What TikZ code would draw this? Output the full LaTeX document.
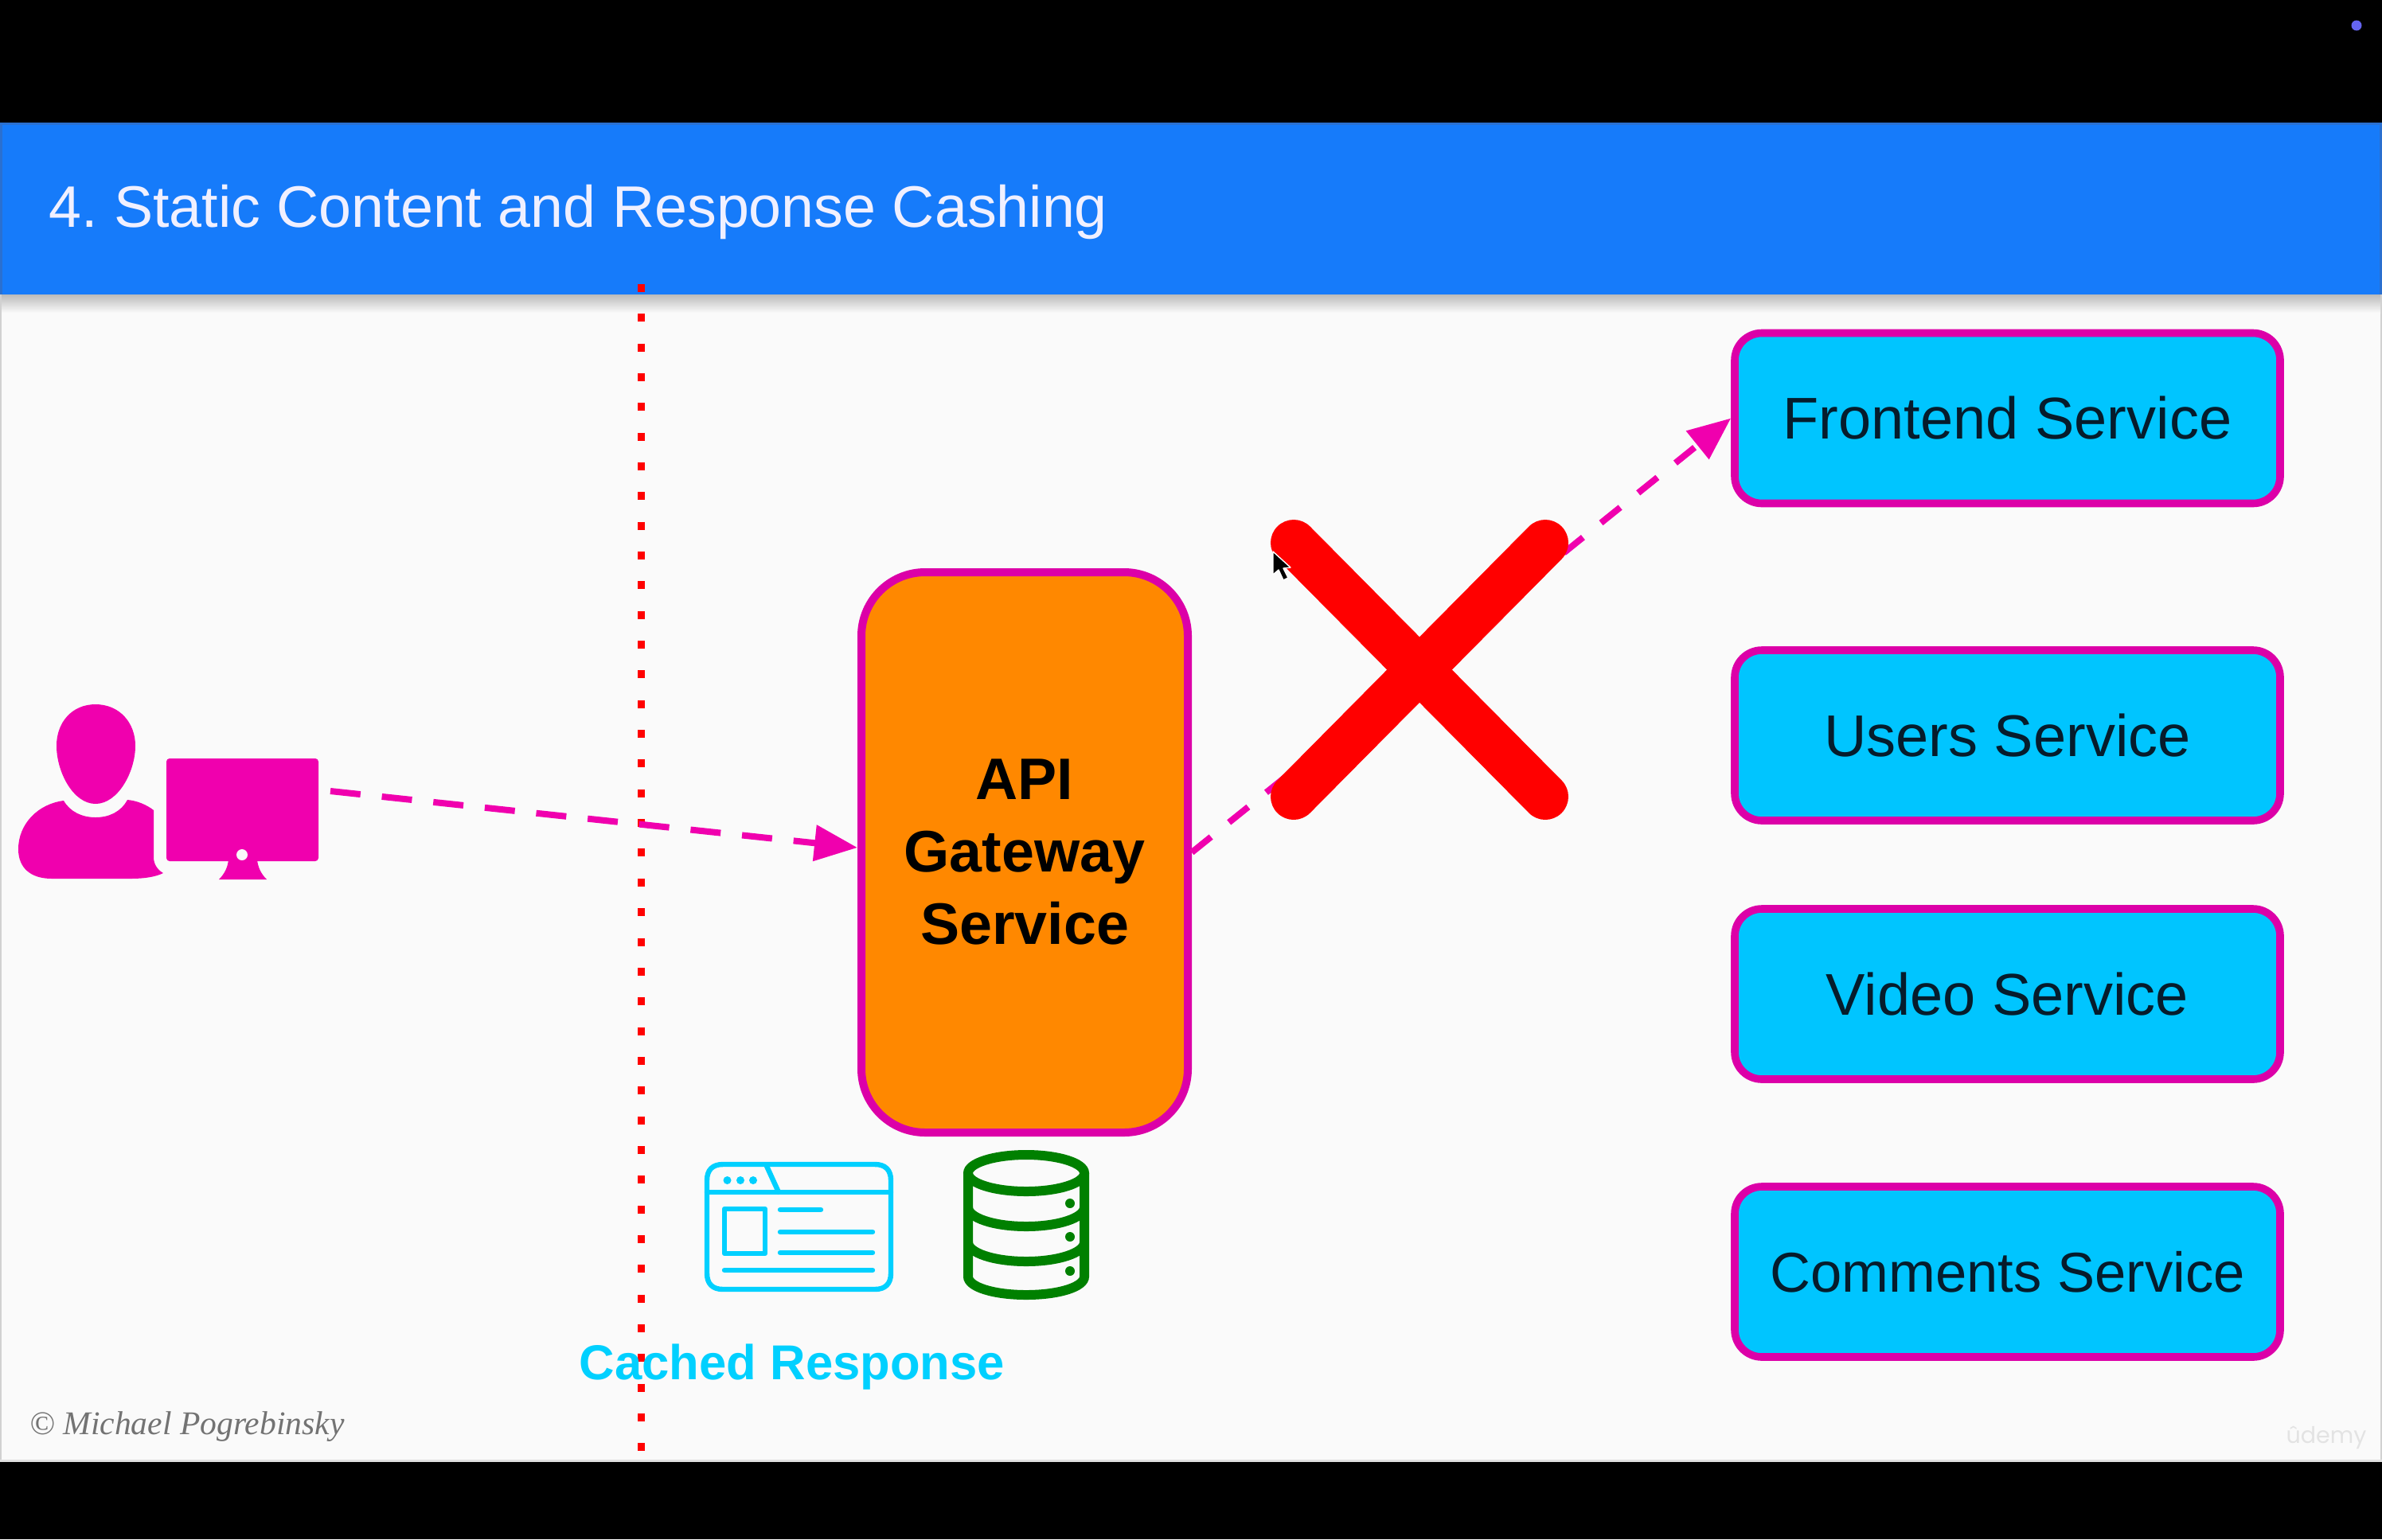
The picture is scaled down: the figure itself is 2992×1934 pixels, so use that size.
\documentclass[tikz,border=0pt]{standalone}
\usepackage{fontspec}
\setmainfont{Liberation Sans}
\newfontfamily\serifcopy{Liberation Serif}
\newfontfamily\wmfont{Poppins}
\usetikzlibrary{arrows.meta}
\definecolor{pagebg}{HTML}{FAFAFA}
\definecolor{headblue}{HTML}{167BFA}
\definecolor{headedge}{HTML}{2A70D0}
\definecolor{mag}{HTML}{F000AE}
\definecolor{boxline}{HTML}{DC00A8}
\definecolor{boxfill}{HTML}{00C5FF}
\definecolor{gwfill}{HTML}{FF8800}
\definecolor{iconcyan}{HTML}{00D0FF}
\definecolor{dbgreen}{HTML}{008000}
\definecolor{dotblue}{HTML}{6464F0}
\definecolor{svctext}{HTML}{061C2C}
\tikzset{
  x=0.5pt,y=-0.5pt,
  svcbox/.style={draw=boxline,fill=boxfill,line width=4.8pt,rounded corners=17pt,
    minimum width=342.5pt,minimum height=107pt,inner sep=0pt,text=svctext,
    font=\fontsize{37}{44}\selectfont},
  gwbox/.style={draw=boxline,fill=gwfill,line width=5pt,rounded corners=40pt,
    minimum width=205pt,minimum height=352pt,inner sep=0pt,align=center,
    font=\bfseries\fontsize{36.8}{45.5}\selectfont},
  flow/.style={draw=mag,line width=4pt,-{Triangle[length=27pt,width=22pt,fill=mag]}},
  browser/.style={draw=iconcyan,line width=3.2pt,line cap=round,line join=round},
  dbline/.style={draw=dbgreen,line width=6pt},
  crossbar/.style={draw=red,line width=29pt,line cap=round},
}
\begin{document}
\frenchspacing
\begin{tikzpicture}
\useasboundingbox (0,0) rectangle (2992,1934);
% page
\fill[black] (0,0) rectangle (2992,1934);
\fill[pagebg] (0,154) rectangle (2992,1837);
\fill[black!18] (0,368) rectangle (2,1837);
\fill[black!18] (2990,368) rectangle (2992,1837);
\fill[black!12] (0,1834) rectangle (2992,1837);
\shade[top color=black!28,bottom color=pagebg] (2,369) rectangle (2990,393);
\fill[headblue] (0,154) rectangle (2992,370);
\fill[headedge] (0,154) rectangle (2992,157);
\fill[headedge] (0,154) rectangle (3,370);
\fill[headedge] (2989,154) rectangle (2992,370);
\fill[dotblue] (2960,32) circle[radius=6.5];
\node[anchor=base west,inner sep=0pt,text=white!94!blue,font=\fontsize{36.8}{44}\selectfont] (title) at (61,285) {4. Static Content and Response Cashing};
% boundary
\coordinate (bt) at (805,357);
\coordinate (bb) at (805,1823);
\draw[red,line width=4.5pt,dash pattern=on 5pt off 13.67pt] (bt) -- (bb);
% services
\node[svcbox] (frontend) at (2521.5,525.5) {Frontend Service};
\node[svcbox] (users) at (2521.5,924) {Users Service};
\node[svcbox] (video) at (2521.5,1249) {Video Service};
\node[svcbox,font=\fontsize{35.3}{44}\selectfont] (comments) at (2521.5,1598) {Comments Service};
\node[gwbox] (gateway) at (1287,1071) {API\\Gateway\\Service};
% user
\fill[mag] (120,885) .. controls (150,885) and (170,908) .. (170,937)
  .. controls (170,970) and (148,1010) .. (120,1010)
  .. controls (92,1010) and (71,970) .. (71,937)
  .. controls (71,908) and (90,885) .. (120,885) -- cycle;
\fill[mag] (80,1006) .. controls (88,1020) and (103,1027) .. (120,1027)
  .. controls (137,1027) and (152,1020) .. (160,1005)
  .. controls (172,1006) and (184,1011) .. (193,1018)
  -- (193,1077) .. controls (193,1086) and (198,1093) .. (205,1097)
  .. controls (195,1102) and (180,1104) .. (165,1104)
  -- (65,1104) .. controls (38,1104) and (23,1090) .. (23,1067)
  .. controls (23,1035) and (48,1010) .. (80,1006) -- cycle;
% monitor
\fill[mag,rounded corners=2pt] (209,953) rectangle (400,1082);
\fill[mag] (287,1080) .. controls (286,1090) and (282,1098) .. (275,1105) -- (335,1105) .. controls (328,1098) and (324,1090) .. (323,1080) -- cycle;
\fill[pagebg] (304,1074) circle[radius=7];
\coordinate (userout) at (415,994);
% flows
\draw[flow,dash pattern=on 19pt off 13.5pt] (userout) -- ([yshift=3pt]gateway.west);
\draw[flow,dash pattern=on 15.5pt off 14.5pt] (gateway.east) -- (frontend.west);
% red cross
\draw[crossbar] (1625,682) -- (1941,1001);
\draw[crossbar] (1941,682) -- (1625,1001);
% cursor
\fill[black,draw=white,line width=0.7pt,line join=round] (1599,693) -- (1599,722) -- (1606,716) -- (1612,729) -- (1618,726) -- (1612,714) -- (1621,713) -- cycle;
% browser icon
\draw[browser] (888,1498) -- (888,1483) .. controls (888,1470) and (895,1463) .. (908,1463) -- (1099,1463) .. controls (1112,1463) and (1119,1470) .. (1119,1483) -- (1119,1600) .. controls (1119,1613) and (1112,1620) .. (1099,1620) -- (908,1620) .. controls (895,1620) and (888,1613) .. (888,1600) -- cycle;
\draw[browser] (888,1498) -- (1119,1498);
\draw[browser] (962,1463) -- (978,1498);
\fill[iconcyan] (913.5,1483) circle[radius=5] (930,1483) circle[radius=5] (946,1483) circle[radius=5];
\draw[browser] (910,1519) rectangle (961,1575);
\draw[browser] (980,1520) -- (1031,1520);
\draw[browser] (980,1548) -- (1096,1548);
\draw[browser] (980,1574) -- (1096,1574);
\draw[browser] (910,1596) -- (1096,1596);
% database icon
\draw[dbline] (1289,1474) ellipse[x radius=73,y radius=23];
\draw[dbline] (1216,1474) -- (1216,1604) .. controls (1216,1617) and (1248,1627) .. (1289,1627) .. controls (1330,1627) and (1362,1617) .. (1362,1604) -- (1362,1474);
\draw[dbline] (1216,1517) .. controls (1216,1530) and (1248,1541) .. (1289,1541) .. controls (1330,1541) and (1362,1530) .. (1362,1517);
\draw[dbline] (1216,1561) .. controls (1216,1574) and (1248,1585) .. (1289,1585) .. controls (1330,1585) and (1362,1574) .. (1362,1561);
\fill[dbgreen] (1344,1512) circle[radius=6] (1344,1554) circle[radius=6] (1344,1597) circle[radius=6];
% labels
\node[anchor=base,inner sep=0pt,text=iconcyan,font=\bfseries\fontsize{30.8}{36}\selectfont] (cachedlabel) at (995,1733) {Cached Response};
\node[anchor=base west,inner sep=0pt,text=black!55,font=\serifcopy\itshape\fontsize{20.8}{25}\selectfont] (copyright) at (37,1802) {© Michael Pogrebinsky};
\node[anchor=base,inner sep=0pt,text=black!11,font=\wmfont\fontsize{14.3}{18}\selectfont] (watermark) at (2922,1813) {ûdemy};
\end{tikzpicture}
\end{document}
